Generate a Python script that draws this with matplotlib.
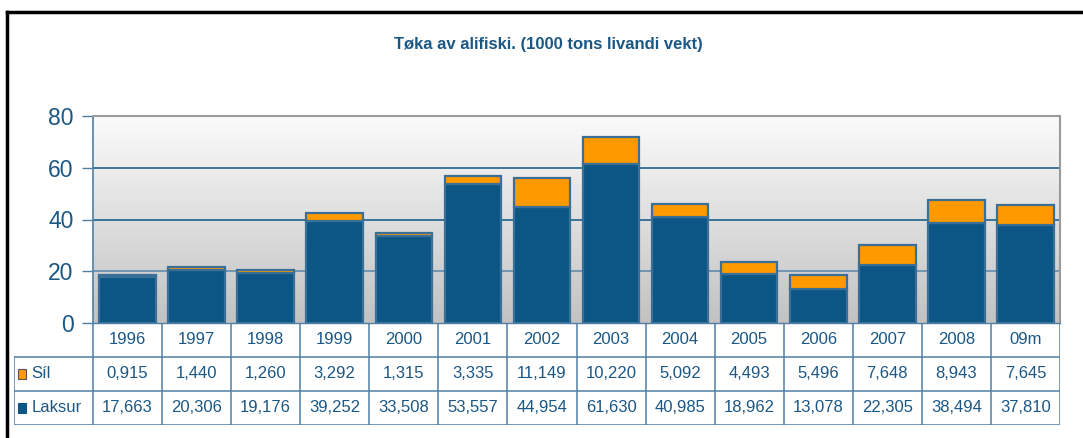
import numpy as np
import matplotlib
matplotlib.use("Agg")
import matplotlib.pyplot as plt
from matplotlib.patches import Rectangle

plt.rcParams['font.family'] = ['Liberation Sans', 'DejaVu Sans']

categories = ["1996", "1997", "1998", "1999", "2000", "2001", "2002",
              "2003", "2004", "2005", "2006", "2007", "2008", "09m"]
sil = [0.915, 1.440, 1.260, 3.292, 1.315, 3.335, 11.149,
       10.220, 5.092, 4.493, 5.496, 7.648, 8.943, 7.645]
laksur = [17.663, 20.306, 19.176, 39.252, 33.508, 53.557, 44.954,
          61.630, 40.985, 18.962, 13.078, 22.305, 38.494, 37.810]
series_names = ["Síl", "Laksur"]
yticks = [0, 20, 40, 60, 80]
title = "Tøka av alifiski. (1000 tons livandi vekt)"

BLUE = "#0b5684"
ORANGE = "#ff9900"
TXT = "#1b5785"
LINE = "#4f7fa5"

W, H = 1083, 438
fig = plt.figure(figsize=(W / 100, H / 100), dpi=100)

# outer frame (left and top lines)
fig.add_artist(plt.Line2D([7 / W, 7 / W], [0, 1 - 12 / H], color="black", lw=2.5,
                          transform=fig.transFigure))
fig.add_artist(plt.Line2D([7 / W, 1], [1 - 12 / H, 1 - 12 / H], color="black", lw=2.5,
                          transform=fig.transFigure))

fig.text(548 / W, 1 - 44 / H, title, ha="center", va="center", fontsize=12,
         fontweight="bold", color=TXT)

ax_l, ax_r = 93 / W, 1060 / W
ax_b, ax_t = 1 - 323 / H, 1 - 116 / H
ax = fig.add_axes([ax_l, ax_b, ax_r - ax_l, ax_t - ax_b])
n = len(categories)
x = np.arange(n)
ax.set_xlim(-0.5, n - 0.5)
ax.set_ylim(0, 80)

# gradient background
grad = np.linspace(0, 1, 256).reshape(-1, 1)
ax.imshow(grad, extent=(-0.5, n - 0.5, 0, 80), origin="lower", aspect="auto",
          cmap=matplotlib.colors.LinearSegmentedColormap.from_list(
              "g", ["#c2c2c2", "#fbfbfb"]), zorder=0)

for yv in yticks[1:-1]:
    ax.axhline(yv, color=BLUE if yv > 20 else "#5a86a8", lw=1.1, zorder=1)

bw = 0.82
ax.bar(x, laksur, width=bw, color=BLUE, edgecolor="#3a6f98", lw=1.6, zorder=3)
ax.bar(x, sil, bottom=laksur, width=bw, color=ORANGE, edgecolor="#3a6f98",
       lw=1.6, zorder=3)

ax.set_yticks(yticks)
ax.set_yticklabels([str(v) for v in yticks], fontsize=16.5, color=TXT)
ax.tick_params(axis="y", length=8, color=LINE, width=1, pad=6)
ax.set_xticks([])
ax.spines["left"].set_color(LINE)
ax.spines["left"].set_linewidth(1.2)
for s in ["top", "right"]:
    ax.spines[s].set_color("#9a9a9a")
    ax.spines[s].set_linewidth(1.5)
ax.spines["bottom"].set_color(LINE)
ax.spines["bottom"].set_linewidth(1.0)

# data table
tb_l = 14 / W
tb_b = 1 - 425 / H
tax = fig.add_axes([tb_l, tb_b, ax_r - tb_l, ax_b - tb_b])
left_x = -0.5 - (93 - 14) / ((1060 - 93) / n)
tax.set_xlim(left_x, n - 0.5)
tax.set_ylim(0, 3)
tax.axis("off")

lkw = dict(color=LINE, lw=1.1)
for yv in [2, 1, 0]:
    tax.plot([left_x, n - 0.5], [yv, yv], **lkw)
for i in range(n + 1):
    tax.plot([i - 0.5, i - 0.5], [0, 3], **lkw)
tax.plot([left_x, left_x], [0, 2], **lkw)

fs = 12
for i, c in enumerate(categories):
    tax.text(i, 2.5, c, ha="center", va="center", fontsize=fs, color=TXT)
    tax.text(i, 1.5, f"{sil[i]:.3f}".replace(".", ","), ha="center", va="center",
             fontsize=fs, color=TXT)
    tax.text(i, 0.5, f"{laksur[i]:.3f}".replace(".", ","), ha="center", va="center",
             fontsize=fs, color=TXT)

sq = 0.12
for row, (name, col) in zip([1.5, 0.5], zip(series_names, [ORANGE, BLUE])):
    tax.add_patch(Rectangle((left_x + 0.06, row - 0.16), sq, 0.32, facecolor=col,
                            edgecolor="#555555" if col == ORANGE else BLUE, lw=0.8))
    tax.text(left_x + 0.25, row, name, ha="left", va="center", fontsize=fs, color=TXT)

fig.savefig("out.png", dpi=100)
